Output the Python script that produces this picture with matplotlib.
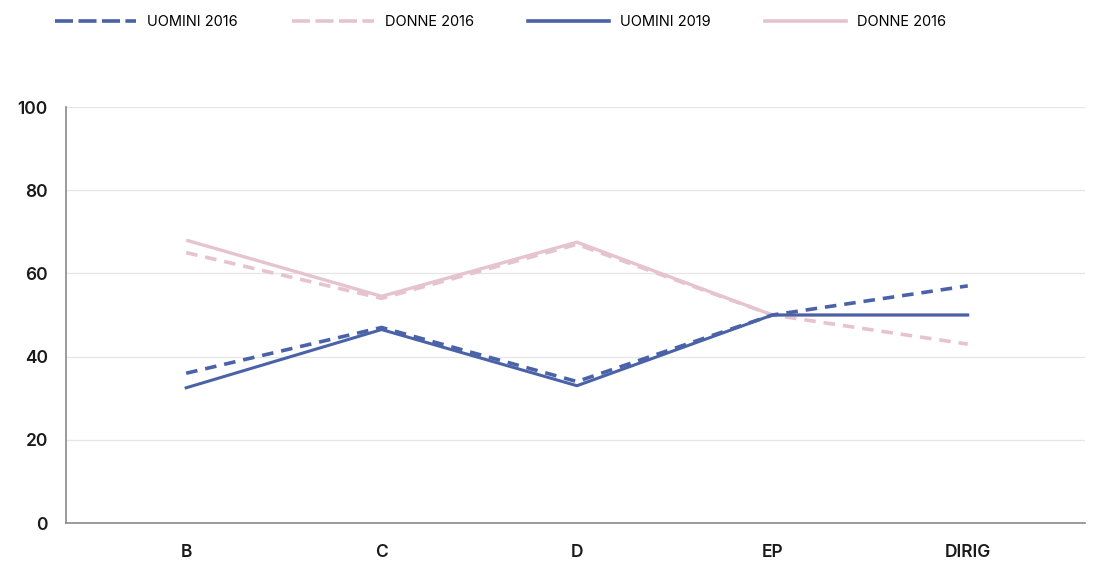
import numpy as np
from matplotlib import pyplot as plt
from matplotlib.lines import Line2D

categorie = ['B', 'C', 'D', 'EP', 'DIRIG']
uomini_2016 = [36, 47, 34, 50, 57]
donne_2016 = [65, 54, 67, 50, 43]
uomini_2019 = [32.5, 46.5, 33, 50, 50]
donne_2019 = [68, 54.5, 67.5, 50, 50]
etichette = ['UOMINI 2016', 'DONNE 2016', 'UOMINI 2019', 'DONNE 2016']

blu = '#4a62a8'
rosa = '#e5c3cf'

plt.rcParams['font.family'] = ['Inter', 'DejaVu Sans']

fig = plt.figure(figsize=(10.97, 5.62), dpi=100)
ax = fig.add_axes([66 / 1097, 1 - 523 / 562, (1085 - 66) / 1097, (523 - 107) / 562])

x = np.arange(len(categorie))
# prima le linee rosa, poi le blu sopra
ax.plot(x, donne_2019, color=rosa, lw=2.4, solid_capstyle='butt')
ax.plot(x, donne_2016, color=rosa, lw=2.6, ls=(0, (3.2, 2.2)))
ax.plot(x, uomini_2016, color=blu, lw=2.6, ls=(0, (3.2, 2.2)))
ax.plot(x, uomini_2019, color=blu, lw=2.2)

ax.set_xlim(-0.615, 4.6)
ax.set_ylim(0, 100)
ax.set_yticks([0, 20, 40, 60, 80, 100])
ax.set_xticks(x)
ax.set_xticklabels(categorie)
ax.tick_params(axis='both', length=0, labelsize=12.5, colors='#1a1a1a')
ax.tick_params(axis='y', pad=13)
ax.tick_params(axis='x', pad=15)
for lab in ax.get_xticklabels() + ax.get_yticklabels():
    lab.set_fontweight('semibold')

ax.grid(axis='y', color='#e6e6e6', lw=0.9)
ax.set_axisbelow(True)
for lato in ['top', 'right']:
    ax.spines[lato].set_visible(False)
ax.spines['left'].set_color('#8a8a8a')
ax.spines['bottom'].set_color('#8a8a8a')
ax.spines['left'].set_linewidth(1.2)
ax.spines['bottom'].set_linewidth(1.2)

# legenda in alto
maniglie = [
    Line2D([], [], color=blu, lw=2.6, ls=(0, (5, 1.5))),
    Line2D([], [], color=rosa, lw=2.6, ls=(0, (5, 1.5))),
    Line2D([], [], color=blu, lw=2.6),
    Line2D([], [], color=rosa, lw=2.6),
]
fig.legend(maniglie, etichette, loc='upper left', bbox_to_anchor=(0.038, 0.997),
           ncol=4, frameon=False, fontsize=10.5, handlelength=5.6,
           handletextpad=0.75, columnspacing=3.7)

plt.savefig('out.png', dpi=100)
